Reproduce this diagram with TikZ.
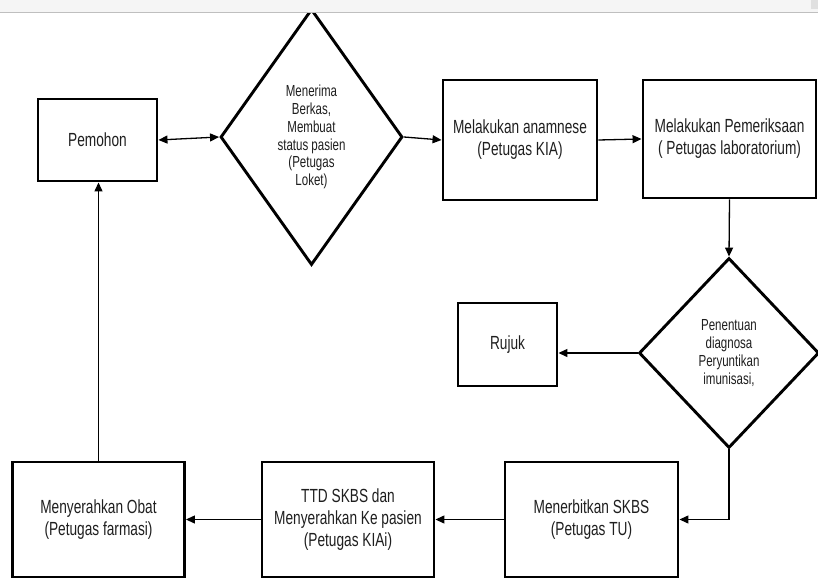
\documentclass[tikz,border=0pt]{standalone}
\usepackage{fontspec}
\setmainfont{Liberation Sans}[FakeStretch=0.72]
\usetikzlibrary{shapes.geometric,arrows.meta}
\begin{document}
\begin{tikzpicture}[x=1pt,y=-1pt,
  boxnode/.style={draw,line width=2.9pt,rectangle,inner sep=0pt,align=center,text=black!88,
    font=\fontsize{19}{22}\selectfont},
  decnode/.style={draw,line width=2.9pt,diamond,inner sep=0pt,align=center,text=black!88,
    font=\fontsize{16}{17.8}\selectfont},
  conn/.style={line width=1.3pt,-{Triangle[length=9pt,width=8pt]}},
  dconn/.style={line width=1.3pt,{Triangle[length=9pt,width=8pt]}-{Triangle[length=9pt,width=8pt]}}
]
\useasboundingbox (0,0) rectangle (818,580);
\fill[white] (0,0) rectangle (818,580);

\node[boxnode,minimum width=119pt,minimum height=82pt] (pem) at (97.5,140) {Pemohon};
\node[decnode,minimum width=182pt,minimum height=256pt] (d1) at (311.5,137) {Menerima\\Berkas,\\Membuat\\status pasien\\(Petugas\\Loket)};
\node[boxnode,minimum width=154pt,minimum height=120pt] (ana) at (520,140) {Melakukan anamnese\\(Petugas KIA)};
\node[boxnode,minimum width=173pt,minimum height=118pt] (prk) at (729.5,139) {Melakukan Pemeriksaan\\( Petugas laboratorium)};
\node[decnode,minimum width=180pt,minimum height=190pt] (d2) at (729,353) {Penentuan\\diagnosa\\Peryuntikan\\imunisasi,};
\node[boxnode,minimum width=99pt,minimum height=83pt] (ruj) at (507.5,344.5) {Rujuk};
\node[boxnode,minimum width=173pt,minimum height=115pt] (trb) at (591.5,519.5) {Menerbitkan SKBS\\(Petugas TU)};
\node[boxnode,minimum width=172pt,minimum height=115pt] (ttd) at (348,519.5) {TTD SKBS dan\\Menyerahkan Ke pasien\\(Petugas KIAi)};
\node[boxnode,minimum width=172pt,minimum height=115pt] (obt) at (98.5,519.5) {Menyerahkan Obat\\(Petugas farmasi)};

\draw[dconn] (pem.east) -- (d1.west);
\draw[conn] (d1.east) -- (ana.west);
\draw[conn] (ana.east) -- (prk.west);
\draw[conn] (prk.south) -- (d2.north);
\draw[conn] (d2.west) -- (d2.west -| ruj.east);
\draw[conn] (d2.south) |- (trb.east);
\draw[conn] (trb.west) -- (ttd.east);
\draw[conn] (ttd.west) -- (obt.east);
\draw[conn] (obt.north) -- (obt.north |- pem.south);

% browser bar
\fill[black!4] (0,0) rectangle (818,12.5);
\draw[black!25,line width=1pt] (0,13) -- (818,13);
\fill[black!12] (811,0) rectangle (818,9);
\end{tikzpicture}
\end{document}
